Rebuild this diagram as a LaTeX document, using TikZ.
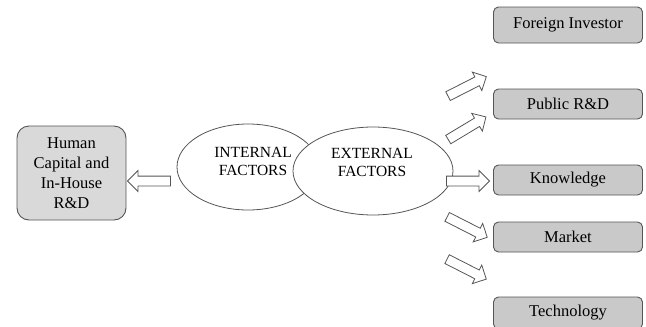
\documentclass[tikz,border=0pt]{standalone}
\usepackage{fontspec}
\setmainfont{Liberation Serif}
\usetikzlibrary{shapes.arrows,shapes.geometric}
\definecolor{edge}{HTML}{555555}
\definecolor{boxfill}{HTML}{C9C9C9}
\definecolor{leftfill}{HTML}{D9D9D9}
\tikzset{
  rbox/.style={draw=edge, line width=0.9pt, fill=boxfill, rounded corners=5pt, minimum width=149pt, minimum height=30pt, inner sep=0pt, font=\fontsize{16.5}{19}\selectfont},
  lbox/.style={draw=edge, line width=0.9pt, fill=leftfill, rounded corners=12pt, minimum width=109pt, minimum height=94pt, inner sep=0pt, align=center, font=\fontsize{16.5}{20}\selectfont},
  ell/.style={draw=edge, line width=0.8pt, fill=white, ellipse, inner sep=0pt, align=center},
  elltext/.style={align=center, font=\fontsize{15.5}{18}\selectfont},
  barrow/.style={draw=edge, line width=0.8pt, fill=white, single arrow, inner xsep=0pt, inner ysep=4.5pt, single arrow head extend=5.5pt, single arrow head indent=0pt, minimum height=43pt}
}
\begin{document}
\begin{tikzpicture}[x=1pt,y=-1pt]
\useasboundingbox (0,0) rectangle (646,327);
% left box
\node[lbox] (hc) at (71.5,173) {Human\\Capital and\\In-House\\R\&D};
% ellipses
\node[ell, minimum width=142pt, minimum height=86pt] (int) at (248,167) {};
\node[ell, minimum width=160pt, minimum height=88pt] (ext) at (373,171) {};
\node[elltext] (intt) at (253,161) {INTERNAL\\FACTORS};
\node[elltext] (extt) at (372,162) {EXTERNAL\\FACTORS};
% right boxes
\node[rbox, minimum height=36pt] (fi) at (568,25) {Foreign Investor};
\node[rbox] (pub) at (568,104) {Public R\&D};
\node[rbox] (kn) at (568,180) {Knowledge};
\node[rbox] (mk) at (568,237) {Market};
\node[rbox, minimum height=32pt] (te) at (568,313) {Technology};
% block arrows
\node[barrow, rotate=180] (a0) at (151.5,181) {};
\node[barrow, rotate=27] (a1) at (465,87.5) {};
\node[barrow, rotate=31, minimum height=44pt] (a2) at (465,129.5) {};
\node[barrow] (a3) at (465.5,181) {};
\node[barrow, rotate=-27, minimum height=45pt] (a4) at (465,226) {};
\node[barrow, rotate=-27, minimum height=44pt] (a5) at (464.5,268) {};
\end{tikzpicture}
\end{document}
